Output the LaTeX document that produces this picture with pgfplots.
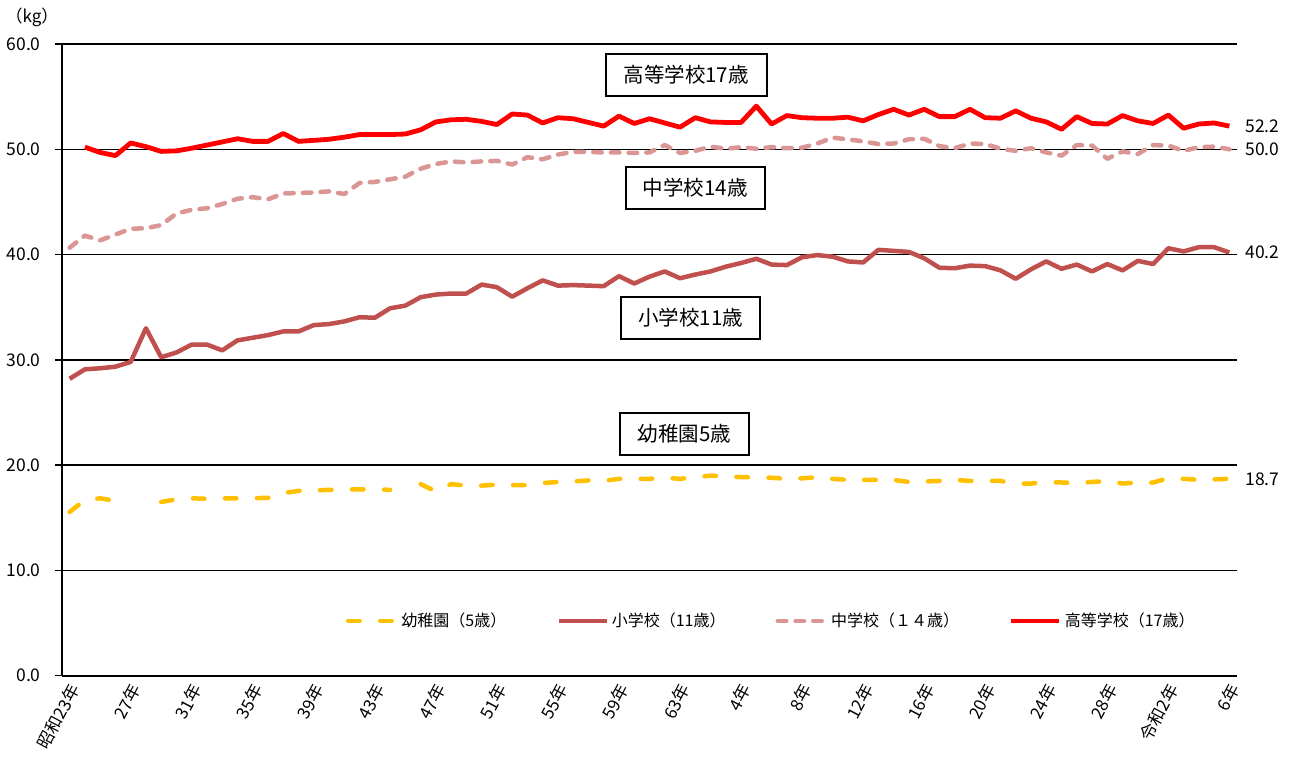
\documentclass[border=0pt]{standalone}
\usepackage{fontspec}
\setmainfont{Noto Sans CJK JP}
\usepackage{pgfplots}
\pgfplotsset{compat=1.18}
\definecolor{cYel}{HTML}{FFC000}
\definecolor{cBrn}{HTML}{C0504D}
\definecolor{cPnk}{HTML}{D99694}
\definecolor{cRed}{HTML}{FF0000}
\begin{document}
\begin{tikzpicture}
\begin{axis}[
 at={(0,0)}, anchor=south west, scale only axis,
 width=587.5pt, height=315.85pt,
 xmin=1947.5, xmax=2024.5, ymin=0, ymax=60,
 axis x line=bottom, axis y line=left,
 axis line style={-, line width=1pt, black},
 ytick={0,10,...,60},
 xtick={1948,1952,...,2024},
 xticklabels={昭和23年,27年,31年,35年,39年,43年,47年,51年,55年,59年,63年,4年,8年,12年,16年,20年,24年,28年,令和2年,6年},
 xtick style={draw=none},
 ytick style={black, line width=0.75pt},
 tick align=outside, major tick length=3.5pt,
 ymajorgrids, grid style={black, line width=0.75pt},
 /pgf/number format/fixed, /pgf/number format/fixed zerofill,
 /pgf/number format/precision=1, /pgf/number format/assume math mode=true,
 yticklabel style={font=\fontsize{8.75}{10}\selectfont, inner sep=0pt, xshift=-7pt},
 xticklabel style={font=\fontsize{8.5}{10}\selectfont, rotate=62, anchor=east, inner sep=1pt, yshift=-3pt, xshift=1pt},
 clip=false,
 unbounded coords=jump,
 legend columns=4,
 legend style={at={(0.2413,0.0867)}, anchor=west, draw=none, fill=none, inner sep=0pt,
   font=\fontsize{8}{9}\selectfont,
   /tikz/every even column/.append style={column sep=23.5pt},
   nodes={inner sep=1.5pt}},
 legend image code/.code={\draw[#1] (0pt,0pt) -- (24pt,0pt);},
]
% 幼稚園 5歳
\addplot[cYel, line width=2.25pt, dash pattern=on 5.75pt off 10.25pt, line cap=round, line join=round] coordinates {
(1948,15.55)(1949,16.7)(1950,16.85)(1951,16.6)(1952,nan)(1953,nan)(1954,16.5)(1955,16.75)(1956,16.85)(1957,16.8)
(1958,16.85)(1959,16.85)(1960,16.85)(1961,16.9)(1962,17.35)(1963,17.55)(1964,17.6)(1965,17.65)(1966,17.7)(1967,17.7)
(1968,17.7)(1969,17.65)(1970,nan)(1971,18.2)(1972,17.5)(1973,18.2)(1974,18.05)(1975,18.05)(1976,18.15)(1977,18.1)
(1978,18.1)(1979,18.3)(1980,18.4)(1981,18.45)(1982,18.55)(1983,18.5)(1984,18.7)(1985,18.7)(1986,18.7)(1987,18.8)
(1988,18.7)(1989,18.85)(1990,19.0)(1991,18.95)(1992,18.85)(1993,18.85)(1994,18.8)(1995,18.7)(1996,18.75)(1997,18.85)
(1998,18.7)(1999,18.6)(2000,18.6)(2001,18.6)(2002,18.6)(2003,18.4)(2004,18.45)(2005,18.5)(2006,18.6)(2007,18.5)
(2008,18.5)(2009,18.5)(2010,18.25)(2011,18.25)(2012,18.4)(2013,18.35)(2014,18.3)(2015,18.4)(2016,18.5)(2017,18.25)
(2018,18.35)(2019,18.35)(2020,18.75)(2021,18.7)(2022,18.6)(2023,18.65)(2024,18.7)};
\addlegendentry{幼稚園（5歳）}
% 小学校 11歳
\addplot[cBrn, line width=2.25pt, line join=round] coordinates {
(1948,28.2)(1949,29.1)(1950,29.2)(1951,29.35)(1952,29.8)(1953,33.0)(1954,30.25)(1955,30.7)(1956,31.45)(1957,31.45)
(1958,30.9)(1959,31.85)(1960,32.1)(1961,32.35)(1962,32.7)(1963,32.7)(1964,33.3)(1965,33.4)(1966,33.65)(1967,34.05)
(1968,34.0)(1969,34.9)(1970,35.15)(1971,35.95)(1972,36.2)(1973,36.3)(1974,36.3)(1975,37.15)(1976,36.9)(1977,36.0)
(1978,36.8)(1979,37.55)(1980,37.05)(1981,37.1)(1982,37.05)(1983,37.0)(1984,37.95)(1985,37.25)(1986,37.9)(1987,38.4)
(1988,37.75)(1989,38.1)(1990,38.4)(1991,38.85)(1992,39.2)(1993,39.6)(1994,39.05)(1995,39.0)(1996,39.75)(1997,39.95)
(1998,39.8)(1999,39.35)(2000,39.25)(2001,40.45)(2002,40.35)(2003,40.25)(2004,39.65)(2005,38.75)(2006,38.7)(2007,38.95)
(2008,38.9)(2009,38.5)(2010,37.7)(2011,38.6)(2012,39.35)(2013,38.65)(2014,39.05)(2015,38.4)(2016,39.1)(2017,38.5)
(2018,39.4)(2019,39.1)(2020,40.6)(2021,40.3)(2022,40.7)(2023,40.7)(2024,40.2)};
\addlegendentry{小学校（11歳）}
% 中学校 14歳
\addplot[cPnk, line width=2.25pt, dash pattern=on 4.25pt off 4.6pt, line cap=round, line join=round] coordinates {
(1948,40.65)(1949,41.8)(1950,41.35)(1951,41.9)(1952,42.45)(1953,42.5)(1954,42.8)(1955,43.9)(1956,44.25)(1957,44.4)
(1958,44.8)(1959,45.3)(1960,45.45)(1961,45.25)(1962,45.8)(1963,45.85)(1964,45.9)(1965,46.0)(1966,45.75)(1967,46.8)
(1968,46.9)(1969,47.15)(1970,47.4)(1971,48.15)(1972,48.6)(1973,48.85)(1974,48.75)(1975,48.85)(1976,48.9)(1977,48.55)
(1978,49.25)(1979,49.05)(1980,49.5)(1981,49.75)(1982,49.75)(1983,49.7)(1984,49.7)(1985,49.65)(1986,49.7)(1987,50.4)
(1988,49.65)(1989,49.85)(1990,50.25)(1991,50.05)(1992,50.2)(1993,50.05)(1994,50.2)(1995,50.1)(1996,50.15)(1997,50.55)
(1998,51.1)(1999,50.95)(2000,50.75)(2001,50.5)(2002,50.55)(2003,50.95)(2004,51.0)(2005,50.3)(2006,50.1)(2007,50.55)
(2008,50.5)(2009,50.05)(2010,49.85)(2011,50.1)(2012,49.7)(2013,49.4)(2014,50.4)(2015,50.35)(2016,49.1)(2017,49.8)
(2018,49.55)(2019,50.4)(2020,50.35)(2021,49.85)(2022,50.2)(2023,50.25)(2024,50.0)};
\addlegendentry{中学校（１４歳）}
% 高等学校 17歳
\addplot[cRed, line width=2.4pt, line join=round] coordinates {
(1949,50.2)(1950,49.7)(1951,49.4)(1952,50.6)(1953,50.25)(1954,49.8)(1955,49.85)(1956,50.1)(1957,50.4)
(1958,50.7)(1959,51.0)(1960,50.75)(1961,50.75)(1962,51.5)(1963,50.75)(1964,50.85)(1965,50.95)(1966,51.15)(1967,51.4)
(1968,51.4)(1969,51.4)(1970,51.45)(1971,51.85)(1972,52.6)(1973,52.8)(1974,52.85)(1975,52.65)(1976,52.35)(1977,53.35)
(1978,53.25)(1979,52.5)(1980,53.0)(1981,52.9)(1982,52.55)(1983,52.2)(1984,53.15)(1985,52.45)(1986,52.9)(1987,52.5)
(1988,52.1)(1989,53.0)(1990,52.6)(1991,52.55)(1992,52.55)(1993,54.1)(1994,52.4)(1995,53.2)(1996,53.0)(1997,52.95)
(1998,52.95)(1999,53.05)(2000,52.7)(2001,53.3)(2002,53.8)(2003,53.25)(2004,53.8)(2005,53.1)(2006,53.1)(2007,53.8)
(2008,53.0)(2009,52.95)(2010,53.65)(2011,52.95)(2012,52.6)(2013,51.9)(2014,53.1)(2015,52.45)(2016,52.4)(2017,53.2)
(2018,52.7)(2019,52.45)(2020,53.25)(2021,52.0)(2022,52.4)(2023,52.5)(2024,52.2)};
\addlegendentry{高等学校（17歳）}
% boxes
\tikzset{lbl/.style={draw=black, line width=0.9pt, fill=white, minimum height=21pt, inner sep=0pt, font=\fontsize{10.25}{12}\selectfont}}
\node[lbl, minimum width=80.5pt] at (axis cs:1988.4,57.04) {高等学校17歳};
\node[lbl, minimum width=69.5pt] at (axis cs:1989.0,46.32) {中学校14歳};
\node[lbl, minimum width=69.5pt] at (axis cs:1988.7,33.97) {小学校11歳};
\node[lbl, minimum width=64.5pt] at (axis cs:1988.3,22.98) {幼稚園5歳};
% end values
\tikzset{endv/.style={anchor=west, inner sep=0pt, xshift=4pt, font=\fontsize{8.75}{10}\selectfont}}
\node[endv] at (axis cs:2024.5,52.2) {52.2};
\node[endv] at (axis cs:2024.5,50.0) {50.0};
\node[endv] at (axis cs:2024.5,40.2) {40.2};
\node[endv] at (axis cs:2024.5,18.7) {18.7};
\end{axis}
\node[font=\fontsize{8.5}{9}\selectfont, inner sep=0pt] at (-15pt,329.35pt) {（kg）};
\pgfresetboundingbox
\path[use as bounding box] (-31pt,-45.65pt) rectangle (618pt,337.85pt);
\end{tikzpicture}
\end{document}
